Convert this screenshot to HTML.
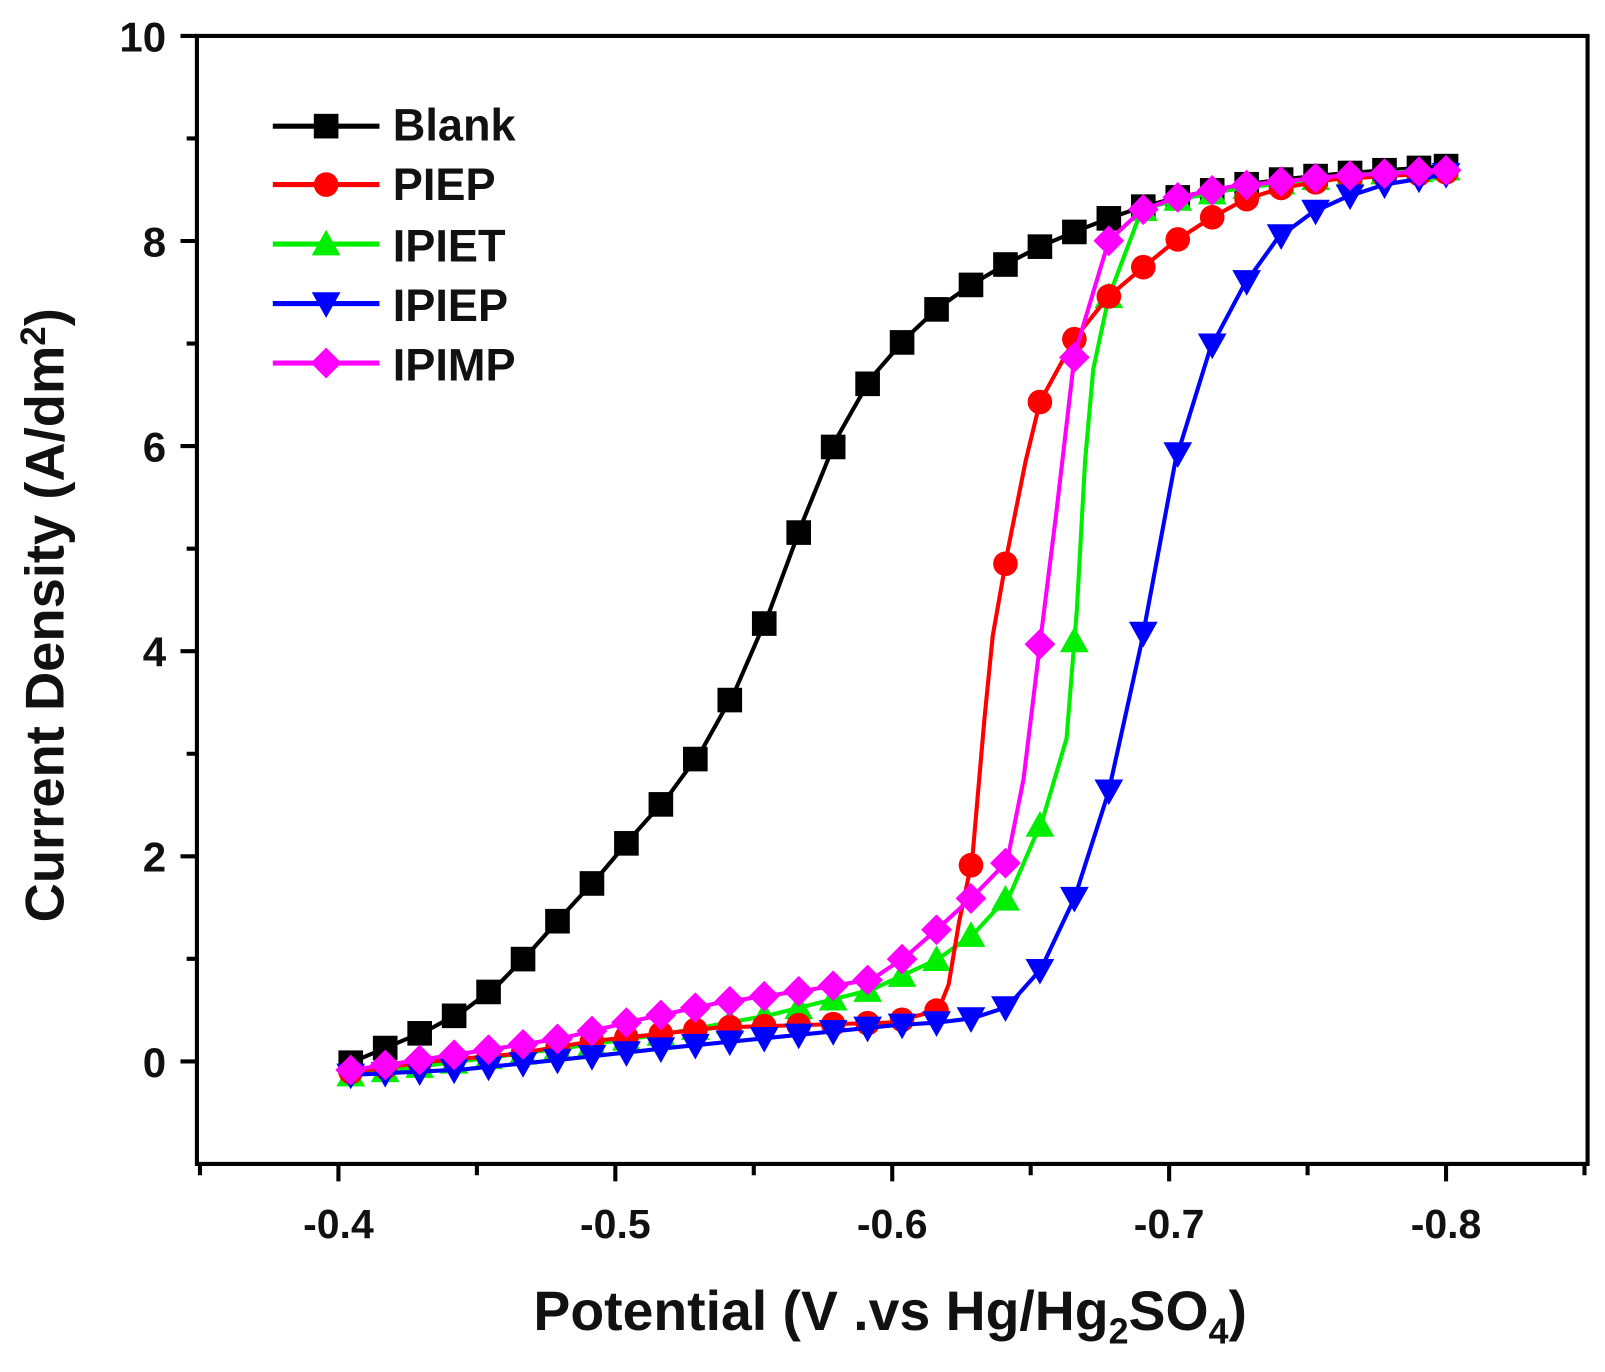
<!DOCTYPE html>
<html><head><meta charset="utf-8"><style>
body{margin:0;background:#fff}
svg text{font-family:"Liberation Sans",sans-serif;font-weight:bold;fill:#111}
</style></head><body>
<svg id="s" width="1605" height="1367" viewBox="0 0 1565 1333" preserveAspectRatio="none" xmlns="http://www.w3.org/2000/svg">
<g stroke="#000" stroke-width="4" fill="none">
<path d="M192,35 H1548 V1135 H192 Z"/>
<path d="M176,35H192M176,235H192M176,435H192M176,635H192M176,835H192M176,1035H192"/>
<path d="M182,135H192M182,335H192M182,535H192M182,735H192M182,935H192"/>
<path d="M330,1135V1152M600,1135V1152M870,1135V1152M1140,1135V1152M1410,1135V1152"/>
<path d="M195,1135V1146M465,1135V1146M735,1135V1146M1005,1135V1146M1275,1135V1146M1545,1135V1146"/>
</g>
<g font-size="41" text-anchor="end">
<text x="162" y="50">10</text><text x="162" y="250">8</text><text x="162" y="450">6</text>
<text x="162" y="650">4</text><text x="162" y="850">2</text><text x="162" y="1050">0</text>
</g>
<g font-size="40" text-anchor="middle">
<text x="330" y="1207">-0.4</text><text x="600" y="1207">-0.5</text><text x="870" y="1207">-0.6</text>
<text x="1140" y="1207">-0.7</text><text x="1410" y="1207">-0.8</text>
</g>
<text x="868" y="1297" font-size="54" text-anchor="middle">Potential (V .vs Hg/Hg<tspan font-size="35" dy="13">2</tspan><tspan dy="-13">SO</tspan><tspan font-size="35" dy="13">4</tspan><tspan dy="-13">)</tspan></text>
<text transform="translate(62,600) rotate(-90)" font-size="53" text-anchor="middle">Current Density (A/dm<tspan font-size="34" dy="-18">2</tspan><tspan dy="18">)</tspan></text>
<g font-size="44">
<text x="383" y="137">Blank</text><text x="383" y="195">PIEP</text><text x="383" y="255">IPIET</text>
<text x="383" y="313">IPIEP</text><text x="383" y="371">IPIMP</text>
</g>
<g id="plot"></g>
</svg>
<script>
var S=[
["#000","sq",[[345,1035],[385,1018],[420,1003],[453,985],[486,960],[518,927],[551,890],[585,853],[617,815],[651,777],[684,732],[717,673],[750,597],[783,508],[816,427],[849,369],[883,330],[915,300],[948,277],[982,257],[1015,240],[1048,226],[1081,213],[1113,202],[1146,193],[1180,186],[1213,180],[1250,175],[1300,170],[1350,166],[1410,162]],123],
["#00ee00","tri",[[345,1048],[450,1035],[550,1022],[650,1008],[750,990],[850,965],[915,935],[950,910],[985,872],[1017,798],[1040,720],[1050,595],[1058,450],[1066,360],[1081,290],[1113,205],[1146,195],[1200,185],[1300,172],[1410,165]],238],
["#ff0000","ci",[[345,1045],[420,1035],[500,1028],[580,1015],[700,1002],[870,997],[915,985],[925,960],[935,900],[948,838],[960,700],[968,620],[983,535],[1000,450],[1014,392],[1048,330],[1080,290],[1113,262],[1146,235],[1180,213],[1213,195],[1250,183],[1300,175],[1410,168]],180],
["#0000ff","dtri",[[345,1048],[450,1043],[550,1033],[650,1022],[750,1012],[870,1000],[915,997],[948,993],[982,982],[1015,945],[1048,875],[1081,772],[1113,627],[1146,450],[1180,340],[1213,278],[1246,232],[1280,207],[1313,192],[1350,180],[1410,170]],296],
["#ff00ff","dia",[[345,1043],[420,1032],[500,1020],[550,1012],[620,995],[700,978],[790,965],[850,955],[883,933],[915,905],[948,875],[982,840],[998,760],[1015,620],[1030,500],[1048,345],[1081,235],[1113,205],[1146,193],[1200,182],[1300,172],[1410,166]],354]];
function interp(p,x){for(var i=1;i<p.length;i++){if(x<=p[i][0]){var a=p[i-1],b=p[i],t=(x-a[0])/(b[0]-a[0]);return a[1]+t*(b[1]-a[1]);}}return p[p.length-1][1];}
function mk(t,x,y,c){var r=12;
 if(t=="sq")return '<rect x="'+(x-r)+'" y="'+(y-r)+'" width="'+2*r+'" height="'+2*r+'" fill="'+c+'"/>';
 if(t=="ci")return '<circle cx="'+x+'" cy="'+y+'" r="'+r+'" fill="'+c+'"/>';
 if(t=="tri")return '<polygon points="'+x+','+(y-14)+' '+(x+14)+','+(y+11)+' '+(x-14)+','+(y+11)+'" fill="'+c+'"/>';
 if(t=="dtri")return '<polygon points="'+x+','+(y+14)+' '+(x+14)+','+(y-11)+' '+(x-14)+','+(y-11)+'" fill="'+c+'"/>';
 return '<polygon points="'+x+','+(y-15)+' '+(x+15)+','+y+' '+x+','+(y+15)+' '+(x-15)+','+y+'" fill="'+c+'"/>';}
var h='';
S.forEach(function(s){var p=s[2];h+='<polyline fill="none" stroke="'+s[0]+'" stroke-width="4" stroke-linejoin="round" points="'+p.map(function(q){return q.join(',')}).join(' ')+'"/>';
 h+='<line x1="266" x2="370" y1="'+s[3]+'" y2="'+s[3]+'" stroke="'+s[0]+'" stroke-width="5"/>'+mk(s[1],318,s[3],s[0]);
 for(var k=0;k<=32;k++){var x=342+k*33.6;if(x>1412)x=1410;h+=mk(s[1],x,interp(p,x),s[0]);}});
document.getElementById('plot').innerHTML=h;
</script>
</body></html>
